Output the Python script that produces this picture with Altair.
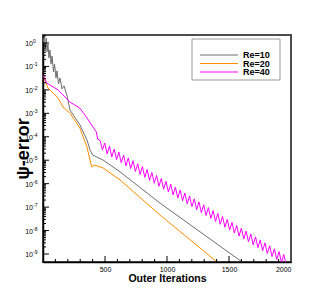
import altair as alt
import pandas as pd

# ---- data ----
series_names = ["Re=10", "Re=20", "Re=40"]
series_colors = ["#6e6e6e", "#ff8c00", "#ff00ff"]

re10_iter = [1, 4, 12, 20, 27, 32, 40, 48, 56, 65, 73, 85, 93, 105, 113, 125, 137, 153, 169,
             194, 218, 298, 355, 379, 401, 484, 621, 944, 1605, 1640]
re10_err = [1.0, 1.35, 2.0, 0.62, 1.6, 0.42, 0.91, 0.23, 0.50, 0.126, 0.28, 0.058, 0.126, 0.032,
            0.065, 0.018, 0.032, 0.011, 0.015, 0.0055, 0.00138, 3.2e-4, 7.2e-5, 2.75e-5, 1.66e-5,
            1.02e-5, 3.2e-6, 1.48e-7, 4.6e-10, 3.4e-10]

re20_iter = [2, 16, 40, 81, 121, 161, 218, 298, 355, 379, 393, 411, 484, 621, 944, 1403, 1430]
re20_err = [0.043, 0.026, 0.012, 0.0074, 0.0045, 0.00186, 0.00102, 2.3e-4, 3.6e-5, 1.02e-5,
            5.2e-6, 6.3e-6, 4.7e-6, 1.45e-6, 4.6e-8, 4.6e-10, 3.2e-10]

re40_iter = [2, 30, 56, 121, 218, 298, 355, 403, 430, 441,
             460, 479, 498, 517, 536, 555, 574, 593, 612, 631, 650, 669, 688, 707, 726, 745,
             764, 783, 802, 821, 840, 859, 878, 897, 916, 935, 954, 973, 992, 1011, 1030, 1049,
             1068, 1087, 1106, 1125, 1144, 1163, 1182, 1201, 1220, 1239, 1258, 1277, 1296, 1315,
             1334, 1353, 1372, 1391, 1410, 1429, 1448, 1467, 1486, 1505, 1524, 1543, 1562, 1581,
             1600, 1619, 1638, 1657, 1676, 1695, 1714, 1733, 1752, 1771, 1790, 1809, 1828, 1847,
             1866, 1885, 1904, 1923, 1942, 1961]
re40_err = [0.043, 0.0195, 0.0162, 0.010, 0.0030, 0.00166, 6.3e-4, 2.6e-4, 1.6e-4, 7.9e-5,
            7.1e-5, 2.8e-5, 5.4e-5, 1.86e-5, 4.0e-5, 1.38e-5, 3.0e-5, 1.05e-5, 2.24e-5, 7.8e-6,
            1.66e-5, 5.8e-6, 1.26e-5, 4.4e-6, 9.5e-6, 3.3e-6, 7.1e-6, 2.45e-6, 5.4e-6, 1.86e-6,
            4.0e-6, 1.38e-6, 3.0e-6, 1.05e-6, 2.24e-6, 7.8e-7, 1.66e-6, 5.8e-7, 1.26e-6, 4.4e-7,
            9.5e-7, 3.3e-7, 7.1e-7, 2.45e-7, 5.4e-7, 1.86e-7, 4.0e-7, 1.38e-7, 3.0e-7, 1.05e-7,
            2.24e-7, 7.8e-8, 1.66e-7, 5.8e-8, 1.26e-7, 4.4e-8, 9.5e-8, 3.3e-8, 7.1e-8, 2.45e-8,
            5.4e-8, 1.86e-8, 4.0e-8, 1.38e-8, 3.0e-8, 1.05e-8, 2.24e-8, 7.8e-9, 1.66e-8, 5.8e-9,
            1.26e-8, 4.4e-9, 9.5e-9, 3.3e-9, 7.1e-9, 2.45e-9, 5.4e-9, 1.86e-9, 4.0e-9, 1.38e-9,
            3.0e-9, 1.05e-9, 2.24e-9, 7.8e-10, 1.66e-9, 5.8e-10, 1.26e-9, 4.4e-10, 9.5e-10, 3.3e-10]

x_label_values = [500, 1000, 1500, 2000]
x_major_ticks = [500, 1000, 1500]
x_minor_ticks = [100, 200, 300, 400, 600, 700, 800, 900, 1100, 1200, 1300, 1400,
                 1600, 1700, 1800, 1900]
y_decades = [1, 1e-1, 1e-2, 1e-3, 1e-4, 1e-5, 1e-6, 1e-7, 1e-8, 1e-9]
y_exponents = ["0", "-1", "-2", "-3", "-4", "-5", "-6", "-7", "-8", "-9"]
y_minor_mult = [2, 3, 4, 5, 6, 7, 8, 9]

# ---- build tables ----
rows = []
for name, its, errs in [("Re=10", re10_iter, re10_err),
                        ("Re=20", re20_iter, re20_err),
                        ("Re=40", re40_iter, re40_err)]:
    for i, e in zip(its, errs):
        rows.append({"series": name, "iter": i, "err": e})
df = pd.DataFrame(rows)

W, H = 248, 227
FONT = "Liberation Sans"
xscale = alt.Scale(domain=[0, 2000], nice=False, zero=False)
yscale = alt.Scale(type="log", domain=[4.56e-10, 2.19], nice=False)

lines = alt.Chart(df).mark_line(clip=True, strokeWidth=1).encode(
    x=alt.X("iter:Q", scale=xscale,
            axis=alt.Axis(values=x_label_values, format="d", ticks=False, tickSize=0, grid=False,
                          labelPadding=3, labelFontSize=7, labelFont=FONT, labelColor="black",
                          domainColor="black", domainWidth=1.5,
                          title="Outer Iterations", titleFont=FONT, titleFontSize=10.5,
                          titleFontWeight="bold", titleColor="black",
                          titleBaseline="alphabetic", titleY=19)),
    y=alt.Y("err:Q", scale=yscale,
            axis=alt.Axis(labels=False, ticks=False, tickSize=0, grid=False,
                          domainColor="black", domainWidth=1.5,
                          title="ψ-error", titleFont=FONT, titleFontSize=18,
                          titleFontWeight="bold", titleColor="black", titleAngle=270,
                          titleAlign="center", titleBaseline="alphabetic",
                          titleX=-15, titleY=H / 2)),
    color=alt.Color("series:N", scale=alt.Scale(domain=series_names, range=series_colors),
                    legend=None),
    detail="series:N",
)

# ticks (pointing inward)
xmaj = alt.Chart(pd.DataFrame({"v": x_major_ticks})).mark_rule(color="black", strokeWidth=1).encode(
    x=alt.X("v:Q", scale=xscale, axis=None), y=alt.value(H), y2=alt.value(H - 6))
xmin = alt.Chart(pd.DataFrame({"v": x_minor_ticks})).mark_rule(color="black", strokeWidth=1).encode(
    x=alt.X("v:Q", scale=xscale, axis=None), y=alt.value(H), y2=alt.value(H - 3))
ydf = pd.DataFrame({"v": y_decades, "e": y_exponents})
ymaj = alt.Chart(ydf).mark_rule(color="black", strokeWidth=1).encode(
    y=alt.Y("v:Q", scale=yscale, axis=None), x=alt.value(0), x2=alt.value(6))
yminor_vals = [d * m for d in y_decades for m in y_minor_mult]
ymin = alt.Chart(pd.DataFrame({"v": yminor_vals})).mark_rule(color="black", strokeWidth=1, clip=True).encode(
    y=alt.Y("v:Q", scale=yscale, axis=None), x=alt.value(0), x2=alt.value(3))

# y tick labels: "10" with superscript exponent
ylab10 = alt.Chart(ydf).mark_text(align="right", baseline="middle", dy=1, fontSize=7,
                                  font=FONT, color="black").encode(
    y=alt.Y("v:Q", scale=yscale, axis=None), x=alt.value(-10), text=alt.value("10"))
ylabexp = alt.Chart(ydf).mark_text(align="left", baseline="middle", dy=-2, fontSize=5,
                                   font=FONT, color="black").encode(
    y=alt.Y("v:Q", scale=yscale, axis=None), x=alt.value(-10), text="e:N")

# legend box
one = pd.DataFrame({"a": [1]})
legbox = alt.Chart(one).mark_rect(fill="white", stroke="#999999", strokeWidth=1).encode(
    x=alt.value(149), x2=alt.value(237), y=alt.value(4), y2=alt.value(45))
leg_layers = []
for i, (name, col) in enumerate(zip(series_names, series_colors)):
    yy = 20 + 8.5 * i
    d = pd.DataFrame({"label": [name]})
    leg_layers.append(alt.Chart(d).mark_rule(color=col, strokeWidth=1).encode(
        x=alt.value(157), x2=alt.value(195), y=alt.value(yy)))
    leg_layers.append(alt.Chart(d).mark_text(align="left", baseline="middle", fontSize=9,
                                             fontWeight="bold", font=FONT, color="black").encode(
        x=alt.value(200), y=alt.value(yy), text="label:N"))

chart = alt.layer(lines, xmaj, xmin, ymaj, ymin, ylab10, ylabexp, legbox, *leg_layers).properties(
    width=W, height=H,
    autosize=alt.AutoSizeParams(type="none"),
    padding={"left": 35, "top": 27, "right": 32, "bottom": 25},
).resolve_axis(x="independent", y="independent").configure_view(stroke="#4d4d4d", strokeWidth=2)

chart.save("out.html", embed_options={"renderer": "svg", "actions": False})
